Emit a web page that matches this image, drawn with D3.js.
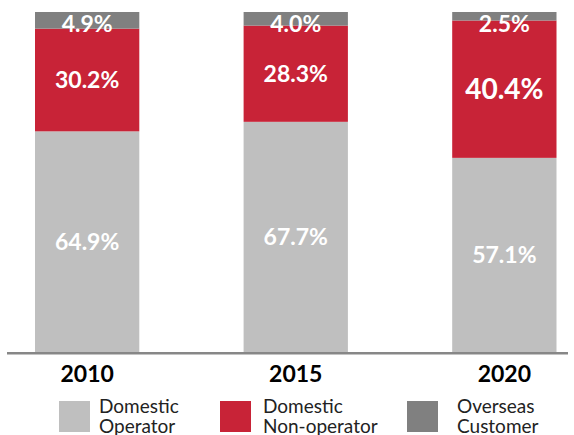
<!DOCTYPE html>
<html lang="en">
  <head>
    <meta charset="UTF-8" />
    <title>Customer mix</title>
    <script src="https://d3js.org/d3.v7.min.js"></script>
    <style>
      body { margin: 0; background: #fff; }
      text { font-family: Lato, "Open Sans", sans-serif; }
    </style>
  </head>
  <body>

    <svg width="574" height="435"></svg>

<script>

// data (percent of total)
var years = ["2010", "2015", "2020"];
var domesticOperator = [64.9, 67.7, 57.1];
var domesticNonOperator = [30.2, 28.3, 40.4];
var overseasCustomer = [4.9, 4.0, 2.5];
var seriesNames = [["Domestic", "Operator"], ["Domestic", "Non-operator"], ["Overseas", "Customer"]];

var colors = ["#bfbfbf", "#c82337", "#808080"];

var svg = d3.select("svg");

var rows = years.map(function(y, i) {
  return { year: y, op: domesticOperator[i], nonop: domesticNonOperator[i], overseas: overseasCustomer[i] };
});

var keys = ["op", "nonop", "overseas"];
var stack = d3.stack().keys(keys)(rows);

var xScale = d3.scaleBand().domain(years).range([35, 556.5]).paddingInner(0.5).paddingOuter(0),
    yScale = d3.scaleLinear().domain([0, 100]).range([352, 12]);

var layers = svg.selectAll(".layer")
  .data(stack)
  .enter().append("g")
  .attr("class", "layer")
  .attr("fill", function(d, i) { return colors[i]; });

layers.selectAll("rect")
  .data(function(d) { return d; })
  .enter().append("rect")
  .attr("x", function(d) { return xScale(d.data.year); })
  .attr("y", function(d) { return yScale(d[1]); })
  .attr("width", xScale.bandwidth())
  .attr("height", function(d) { return yScale(d[0]) - yScale(d[1]); });

// value labels
layers.each(function(layer, li) {
  d3.select(this).selectAll("text")
    .data(layer)
    .enter().append("text")
    .attr("x", function(d) { return xScale(d.data.year) + xScale.bandwidth() / 2; })
    .attr("y", function(d) {
      if (li == 2) return yScale(d[1]) + 19.5;   // small top slice: label hangs off the top
      return (yScale(d[0]) + yScale(d[1])) / 2;
    })
    .attr("dy", li == 2 ? 0 : "0.36em")
    .attr("text-anchor", "middle")
    .attr("fill", "#fff")
    .attr("font-weight", 700)
    .attr("font-size", function(d) { return (li == 1 && d.data.year == "2020") ? "28px" : "23px"; })
    .text(function(d) { return d.data[keys[li]].toFixed(1) + "%"; });
});

// baseline
svg.append("line")
  .attr("x1", 7).attr("x2", 568)
  .attr("y1", 353.3).attr("y2", 353.3)
  .attr("stroke", "#878787")
  .attr("stroke-width", 2.5);

var xAxis = svg.append("g")
  .attr("transform", "translate(0,352)")
  .call(d3.axisBottom(xScale).tickSize(0).tickPadding(0));
xAxis.select(".domain").remove();
xAxis.selectAll("text")
  .attr("y", 30)
  .attr("dy", 0)
  .attr("font-family", "Lato, sans-serif")
  .attr("font-size", "23px")
  .attr("font-weight", 700)
  .attr("fill", "#000");

// legend
var legendX = [59, 220, 407];
var legendTextX = [40, 43, 50];
var legend = svg.selectAll(".legend")
  .data(seriesNames)
  .enter().append("g")
  .attr("class", "legend")
  .attr("transform", function(d, i) { return "translate(" + legendX[i] + ",401)"; });

legend.append("rect")
  .attr("width", 31)
  .attr("height", 31)
  .attr("fill", function(d, i) { return colors[i]; });

legend.append("text")
  .attr("y", 11.5)
  .attr("font-size", "19px")
  .attr("fill", "#222")
  .each(function(d, i) {
    d3.select(this).selectAll("tspan")
      .data(d)
      .enter().append("tspan")
      .attr("x", legendTextX[i])
      .attr("dy", function(t, j) { return j == 0 ? 0 : 20; })
      .text(function(t) { return t; });
  });

</script>

  </body>
</html>
